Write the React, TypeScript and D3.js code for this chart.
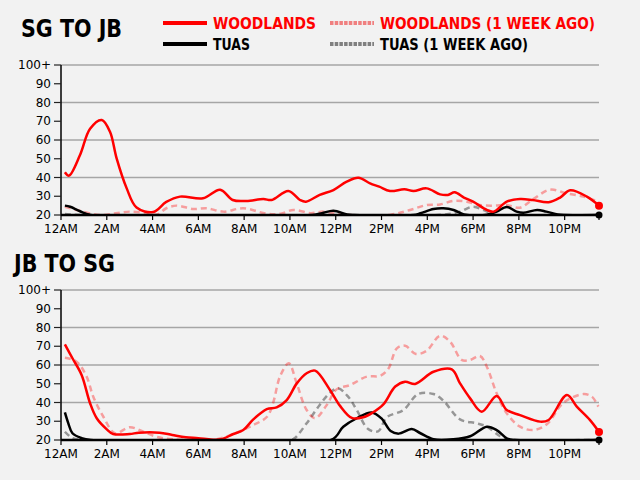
import React, { useEffect } from 'react';
import * as d3 from 'd3';

type Pt = [number, number];

// hours since midnight, value (capped at 100+, floored at 20)
const xTickHours = [0, 2, 4, 6, 8, 10, 12, 14, 16, 18, 20, 22];
const xTickLabels = ['12AM', '2AM', '4AM', '6AM', '8AM', '10AM', '12PM', '2PM', '4PM', '6PM', '8PM', '10PM'];
const yTicks = [20, 30, 40, 50, 60, 70, 80, 90, 100];
const yTickLabels = ['20', '30', '40', '50', '60', '70', '80', '90', '100+'];
const gridValues = [40, 60, 80, 100];
const lastHour = 23.5;

const sgWoodlands: Pt[] = [
  [0.17, 42.8], [0.35, 41], [0.83, 52], [1.27, 66], [1.78, 70.7], [2.14, 64.4], [2.43, 50.2], [2.87, 34.2],
  [3.3, 24], [4.03, 21.6], [4.6, 27], [5.2, 29.8], [6.2, 28.9], [6.95, 33.5], [7.5, 28], [8.1, 27.5],
  [8.84, 28.5], [9.2, 28], [9.93, 32.8], [10.44, 28], [10.7, 27.1], [11.3, 30.7], [11.9, 33.3], [12.48, 37.8],
  [12.99, 39.9], [13.5, 36.9], [13.9, 35.1], [14.37, 32.8], [15.0, 33.7], [15.4, 32.8], [15.97, 34.2],
  [16.56, 31], [16.9, 30.7], [17.2, 32.1], [17.6, 29.3], [18.0, 27.1], [18.6, 22.7], [18.9, 21.8],
  [19.47, 27.1], [20.05, 28.5], [20.6, 28], [21.3, 26.8], [21.8, 29.3], [22.24, 33.2], [22.97, 29.8], [23.5, 25],
];
const sgWoodlandsWeek: Pt[] = [
  [0.17, 24.4], [0.97, 21.8], [1.7, 20], [2.4, 20.9], [3.0, 21.8], [3.75, 21], [4.2, 20.3], [4.6, 23.6],
  [5.05, 25], [5.78, 23.2], [6.36, 23.6], [7.1, 21.8], [7.96, 23.6], [8.98, 20.7], [9.6, 20.7], [10.15, 22.7],
  [10.9, 21], [11.46, 21.8], [11.9, 20.9], [12.5, 20], [14.4, 20.2], [15.25, 22.7], [15.97, 25.3], [16.56, 25.6],
  [17.14, 27.5], [17.72, 27.1], [18.3, 25.3], [18.9, 25], [19.47, 25.3], [20.05, 23.9], [20.63, 28.5],
  [21.36, 33.5], [22.1, 31.5], [22.82, 29.8], [23.4, 27.5],
];
const sgTuas: Pt[] = [
  [0.17, 25], [0.4, 24.4], [0.83, 22], [1.3, 20], [11.0, 20], [11.4, 21], [11.9, 22.3], [12.5, 20.3], [12.8, 20],
  [15.4, 20], [15.7, 20.9], [16.27, 23.2], [16.7, 23.6], [17.15, 22.7], [17.6, 20.3], [18.6, 20.2], [19.03, 21.8],
  [19.47, 24.3], [19.9, 21.8], [20.2, 21.2], [20.8, 22.7], [21.2, 21.8], [21.7, 20.3], [22, 20], [23.5, 20],
];
const sgTuasWeek: Pt[] = [
  [0.17, 20.5], [1, 20], [16.8, 20.3], [17.43, 21.8], [18.0, 24.4], [18.6, 21.8], [18.9, 20], [23.5, 20],
];

const jbWoodlands: Pt[] = [
  [0.17, 71], [0.5, 63.6], [0.9, 54.7], [1.27, 39.6], [1.56, 31.6], [2.0, 25.7], [2.28, 23.2], [3.0, 23.2],
  [3.4, 23.9], [4.3, 23.9], [4.86, 22.7], [5.45, 21.5], [6.0, 21], [6.6, 20.2], [7.0, 20.4], [7.53, 23.2],
  [7.96, 25.3], [8.4, 31], [8.99, 36.5], [9.42, 37.4], [9.86, 41.3], [10.3, 50.2], [10.73, 55.6], [11.1, 57],
  [11.75, 46.7], [12.19, 38.2], [12.7, 31.8], [13.2, 32.1], [13.6, 34.5], [14.08, 39], [14.6, 48.5],
  [15.03, 51.1], [15.47, 49.9], [16.27, 56.4], [17.07, 57.7], [17.43, 50.2], [17.87, 42.2], [18.38, 35.1],
  [19.03, 43.5], [19.47, 36], [20.05, 33.3], [20.93, 29.8], [21.3, 30.7], [22.1, 44], [22.53, 37.8],
  [23.1, 30.7], [23.5, 24.3],
];
const jbWoodlandsWeek: Pt[] = [
  [0.17, 63.9], [0.68, 61.8], [1.12, 53.8], [1.41, 43.1], [1.85, 32.4], [2.36, 23.6], [3.0, 26.8], [3.6, 24.4],
  [4.2, 21.6], [4.9, 20.4], [6.0, 20], [6.8, 20.4], [7.53, 23.2], [8.4, 28], [9.0, 32.4], [9.27, 40],
  [9.57, 54], [9.95, 60.9], [10.3, 50], [10.73, 36], [11.1, 31.6], [11.6, 38.5], [12.04, 47], [12.63, 49.3],
  [13.36, 53.8], [13.94, 54.2], [14.3, 58], [14.67, 68.9], [15.03, 70.3], [15.5, 65.9], [15.97, 67.6],
  [16.56, 75.6], [17.0, 72.4], [17.5, 62.7], [17.87, 62.7], [18.3, 64.8], [18.6, 59.1], [19.03, 44.9],
  [19.47, 34.2], [20.05, 27.1], [20.63, 25.3], [21.22, 28.4], [21.95, 39.9], [22.82, 44.5], [23.2, 43],
  [23.47, 37.8],
];
const jbTuas: Pt[] = [
  [0.17, 34.7], [0.32, 28.9], [0.5, 23.6], [0.9, 21], [1.3, 20], [11.8, 20], [12.33, 27.1], [12.92, 31.6],
  [13.57, 34.7], [14.0, 31.5], [14.4, 24.8], [14.75, 23.4], [15.32, 25.9], [15.7, 23.6], [16.27, 20.4],
  [17.14, 20.4], [17.87, 22], [18.6, 27.1], [19.03, 25.3], [19.47, 20.9], [19.8, 20], [23.5, 20],
];
const jbTuasWeek: Pt[] = [
  [0.17, 24.4], [0.5, 21], [0.95, 20], [10.0, 20], [10.2, 20.9], [10.73, 28.9], [11.3, 38.7], [11.75, 45.2],
  [12.1, 47.6], [12.55, 43], [12.92, 36], [13.4, 26], [13.85, 24.6], [14.23, 32.1], [14.96, 36], [15.6, 44.5],
  [16.27, 44.5], [16.7, 41], [17.43, 31], [18.16, 28.9], [18.6, 27.1], [19.18, 22], [19.5, 20.3], [19.8, 20],
  [23.5, 20],
];

const RED = '#ff0000';
const PINK = 'rgba(255,0,0,0.35)';
const GREY = 'rgba(0,0,0,0.38)';

const styles = {
  woodlands: { stroke: RED, dash: null as string | null },
  woodlandsWeek: { stroke: PINK, dash: '6,4' },
  tuas: { stroke: '#000', dash: null as string | null },
  tuasWeek: { stroke: GREY, dash: '6,4' },
};

const X0 = 61;
const X1 = 599;
const FONT = 'DejaVu Sans, sans-serif';

interface PanelProps {
  title: string;
  top: number;
  titleX: number;
  titleY: number;
  woodlands: Pt[];
  woodlandsWeek: Pt[];
  tuas: Pt[];
  tuasWeek: Pt[];
}

const Panel: React.FC<PanelProps> = ({ title, top, titleX, titleY, woodlands, woodlandsWeek, tuas, tuasWeek }) => {
  const x = d3.scaleLinear().domain([0, lastHour]).range([X0, X1]);
  const y = d3.scaleLinear().domain([20, 100]).range([top + 150, top]).clamp(true);
  const base = y(20);
  const line = d3.line<Pt>()
    .x(d => x(d[0]))
    .y(d => y(d[1]))
    .curve(d3.curveCatmullRom.alpha(0.5));

  const seriesList = [
    { data: tuasWeek, ...styles.tuasWeek },
    { data: woodlandsWeek, ...styles.woodlandsWeek },
    { data: tuas, ...styles.tuas },
    { data: woodlands, ...styles.woodlands },
  ];

  const wEnd = woodlands[woodlands.length - 1];
  const tEnd = tuas[tuas.length - 1];
  const clipId = `clip-${top}`;

  return (
    <g>
      <defs>
        <clipPath id={clipId}>
          <rect x={X0 - 5} y={top - 10} width={X1 - X0 + 15} height={base - top + 11} />
        </clipPath>
      </defs>
      <text x={titleX} y={titleY} fontFamily={FONT} fontWeight="bold" fontSize={24}
        textLength={101} lengthAdjust="spacingAndGlyphs" fill="#000">{title}</text>

      {gridValues.map(v => (
        <line key={v} x1={X0} x2={X1} y1={y(v)} y2={y(v)} stroke="#a6a6a6" strokeWidth={1.5} />
      ))}

      {/* y axis */}
      <line x1={X0} x2={X0} y1={y(100)} y2={base} stroke="#000" strokeWidth={1.5} />
      {yTicks.map((v, i) => (
        <g key={v}>
          <line x1={X0 - 7} x2={X0} y1={y(v)} y2={y(v)} stroke="#222" strokeWidth={1.2} />
          <text x={X0 - 10} y={y(v)} dy="0.35em" textAnchor="end" fontFamily={FONT} fontSize={12} fill="#000">
            {yTickLabels[i]}
          </text>
        </g>
      ))}

      <g clipPath={`url(#${clipId})`}>
        {seriesList.map((s, i) => (
          <path key={i} d={line(s.data) || ''} fill="none" stroke={s.stroke} strokeWidth={2.5}
            strokeDasharray={s.dash || undefined} strokeLinejoin="round" />
        ))}
      </g>

      {/* x axis */}
      <line x1={X0} x2={X1 + 1} y1={base} y2={base} stroke="#000" strokeWidth={2.5} />
      {xTickHours.map((h, i) => (
        <g key={h}>
          <line x1={x(h)} x2={x(h)} y1={base} y2={base + 5} stroke="#000" strokeWidth={1.2} />
          <text x={x(h)} y={base + 18} textAnchor="middle" fontFamily={FONT} fontSize={12} fill="#000">
            {xTickLabels[i]}
          </text>
        </g>
      ))}
      <line x1={x(lastHour)} x2={x(lastHour)} y1={base} y2={base + 5} stroke="#000" strokeWidth={1.2} />

      <circle cx={x(wEnd[0])} cy={y(wEnd[1])} r={4} fill={RED} />
      <circle cx={x(tEnd[0])} cy={y(tEnd[1])} r={3.5} fill="#000" />
    </g>
  );
};

const legendItems = [
  { label: 'WOODLANDS', col: 0, row: 0, color: RED, len: 103, line: RED, dash: null as string | null },
  { label: 'WOODLANDS (1 WEEK AGO)', col: 1, row: 0, color: RED, len: 215, line: '#f08080', dash: '3.5,1.2' },
  { label: 'TUAS', col: 0, row: 1, color: '#000', len: 37, line: '#000', dash: null as string | null },
  { label: 'TUAS (1 WEEK AGO)', col: 1, row: 1, color: '#000', len: 148, line: '#808080', dash: '3.5,1.2' },
];

const Legend: React.FC = () => {
  const colX = [163, 330];
  const rowY = [23, 44];
  return (
    <g>
      {legendItems.map(it => {
        const lx = colX[it.col];
        const ly = rowY[it.row];
        return (
          <g key={it.label}>
            <line x1={lx} x2={lx + 44} y1={ly} y2={ly} stroke={it.line} strokeWidth={4}
              strokeDasharray={it.dash || undefined} />
            <text x={lx + 50} y={ly + 6} fontFamily={FONT} fontWeight="bold" fontSize={16}
              textLength={it.len} lengthAdjust="spacingAndGlyphs" fill={it.color}>{it.label}</text>
          </g>
        );
      })}
    </g>
  );
};

export default function App() {
  useEffect(() => {
    document.body.style.margin = '0';
    document.body.style.background = '#f2f2f2';
  }, []);
  return (
    <svg width={640} height={480} style={{ display: 'block', background: '#f2f2f2' }}>
      <rect width={640} height={480} fill="#f2f2f2" />
      <Legend />
      <Panel title="SG TO JB" top={65} titleX={21} titleY={37} woodlands={sgWoodlands}
        woodlandsWeek={sgWoodlandsWeek} tuas={sgTuas} tuasWeek={sgTuasWeek} />
      <Panel title="JB TO SG" top={290} titleX={14} titleY={272} woodlands={jbWoodlands}
        woodlandsWeek={jbWoodlandsWeek} tuas={jbTuas} tuasWeek={jbTuasWeek} />
    </svg>
  );
}
